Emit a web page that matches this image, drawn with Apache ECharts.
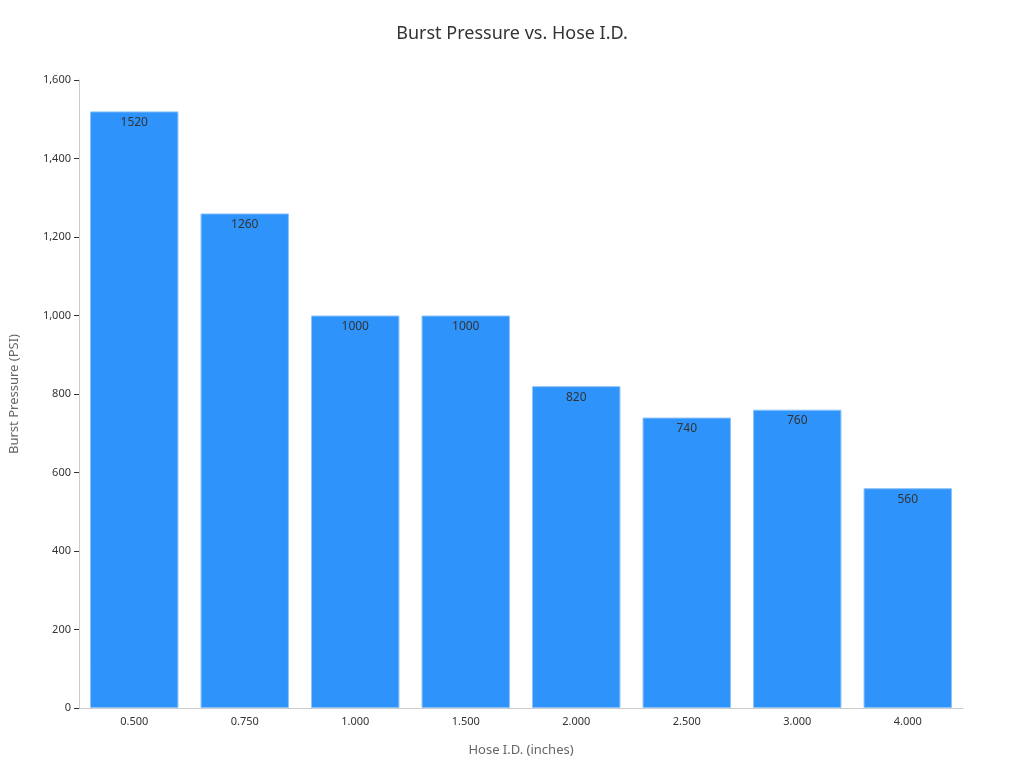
<!DOCTYPE html>
<html><head><meta charset="utf-8">
<script src="https://cdn.jsdelivr.net/npm/echarts@6/dist/echarts.min.js"></script>
<style>html,body{margin:0;padding:0}#c{width:1024px;height:768px}</style>
</head><body><div id="c"></div>
<script>
const categories = ["0.500","0.750","1.000","1.500","2.000","2.500","3.000","4.000"];
const burstPressure = [1520,1260,1000,1000,820,740,760,560];
const chart = echarts.init(document.getElementById('c'));
chart.setOption({
  textStyle:{fontFamily:'Noto Sans'},
  title:{text:'Burst Pressure vs. Hose I.D.',left:'center',top:20,textStyle:{fontSize:18,fontWeight:'normal',color:'#333',fontFamily:'Noto Sans'}},
  grid:{left:76,right:61,top:80,bottom:60},
  xAxis:{type:'category',data:categories,name:'Hose I.D. (inches)',nameLocation:'middle',nameGap:36,
    nameTextStyle:{fontSize:13,color:'#666'},
    axisLine:{lineStyle:{color:'#ccc'}},axisTick:{show:false},axisLabel:{color:'#333',fontSize:11}},
  yAxis:{type:'value',min:0,max:1600,interval:200,name:'Burst Pressure (PSI)',nameLocation:'middle',nameGap:58,
    nameTextStyle:{fontSize:13,color:'#666'},
    axisLine:{show:true,lineStyle:{color:'#ccc'}},axisTick:{show:true,lineStyle:{color:'#333'}},
    splitLine:{show:false},axisLabel:{color:'#333',fontSize:11}},
  series:[{type:'bar',data:burstPressure,barCategoryGap:'20%',
    itemStyle:{color:'#2e93fa',borderColor:'#8cc2fb',borderWidth:1},
    label:{show:true,position:'insideTop',color:'#333',fontSize:12}}]
});
</script></body></html>
